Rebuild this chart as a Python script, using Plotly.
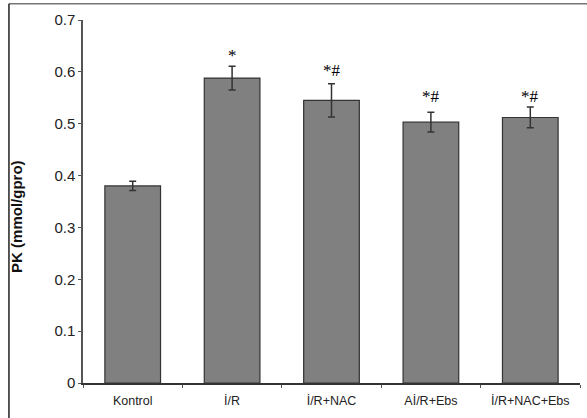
import plotly.graph_objects as go

categories = ["Kontrol", "İ/R", "İ/R+NAC", "Aİ/R+Ebs", "İ/R+NAC+Ebs"]
values = [0.380, 0.588, 0.545, 0.503, 0.512]
errors = [0.009, 0.023, 0.032, 0.019, 0.020]
marks = ["", "*", "*#", "*#", "*#"]
mark_y = [None, 0.632, 0.603, 0.553, 0.553]
y_ticks = [0, 0.1, 0.2, 0.3, 0.4, 0.5, 0.6, 0.7]
y_tick_text = ["0", "0.1", "0.2", "0.3", "0.4", "0.5", "0.6", "0.7"]

fig = go.Figure()
fig.add_trace(go.Bar(
    x=categories, y=values,
    width=0.56,
    marker=dict(color="#808080", line=dict(color="#333333", width=1.2)),
    error_y=dict(type="data", array=errors, visible=True,
                 color="#333333", thickness=1.5, width=3.5),
))

for c, m, yv in zip(categories, marks, mark_y):
    if m:
        fig.add_annotation(x=c, y=yv, xref="x", yref="y", text=m,
                           showarrow=False, yanchor="middle",
                           font=dict(family="Liberation Serif", size=17, color="#000"))

fig.add_annotation(x=-0.135, y=0.46, xref="paper", yref="paper",
                   xanchor="center", yanchor="middle",
                   text="<b>PK (mmol/gpro)</b>", textangle=-90, showarrow=False,
                   font=dict(family="Liberation Sans", size=15, color="#111"))

# frame lines (top and left)
fig.add_shape(type="line", xref="paper", yref="paper",
              x0=-0.149, x1=1.02, y0=1.045, y1=1.045,
              line=dict(color="#777", width=1.5))
fig.add_shape(type="line", xref="paper", yref="paper",
              x0=-0.149, x1=-0.149, y0=1.045, y1=-0.1,
              line=dict(color="#222", width=1.5))

fig.update_layout(
    width=587, height=418,
    margin=dict(l=83, r=7, t=20, b=35),
    plot_bgcolor="white", paper_bgcolor="white",
    showlegend=False,
    font=dict(family="Liberation Sans", color="#222"),
)
fig.update_xaxes(showline=True, linecolor="#333", linewidth=1.5,
                 ticks="outside", tickson="boundaries", ticklen=3, tickcolor="#555",
                 tickfont=dict(size=12.5, color="#222"), ticklabelstandoff=5,
                 showgrid=False)
fig.update_yaxes(range=[0, 0.7], tickvals=y_ticks, ticktext=y_tick_text,
                 showline=True, linecolor="#555", linewidth=1.5,
                 ticks="outside", ticklen=3, tickcolor="#555",
                 tickfont=dict(size=15, color="#222"),
                 showgrid=False, zeroline=False)

fig.write_html("out.html", config={"displayModeBar": False},
               post_script="document.body.style.margin='0';document.body.style.overflow='hidden';")
